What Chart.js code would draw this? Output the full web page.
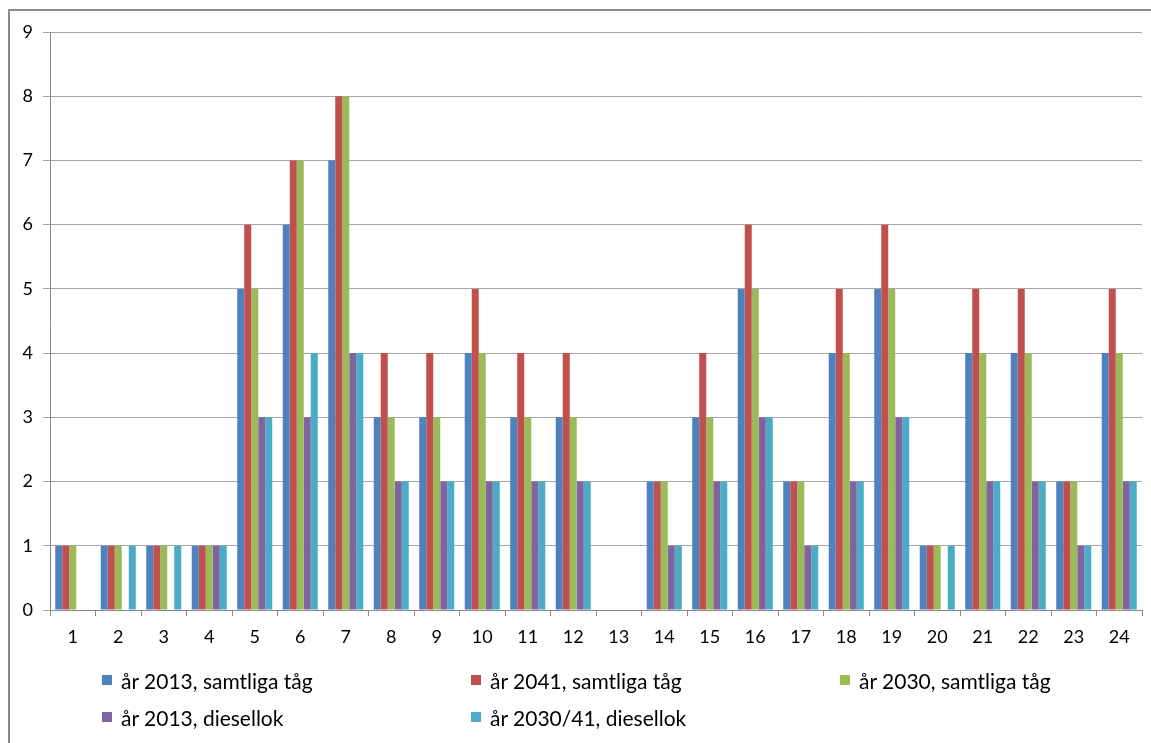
<!DOCTYPE html>
<html>
<head>
<meta charset="utf-8">
<title>Tåg per timme</title>
<script src="https://cdn.jsdelivr.net/npm/chart.js@4/dist/chart.umd.min.js"></script>
<style>
  html, body { margin: 0; padding: 0; background: #fff; }
  #wrap { position: relative; width: 1151px; height: 743px; overflow: hidden; }
  #frame { position: absolute; left: 8px; top: 9px; right: -4px; bottom: -4px;
           border-left: 2px solid #8a8a8a; border-top: 2px solid #8a8a8a; pointer-events: none; }
  canvas { position: absolute; left: 0; top: 0; }
  #legend { position: absolute; left: 102px; top: 667px; width: 1040px;
            display: grid; grid-template-columns: 369px 369px 302px; row-gap: 11px;
            font-family: Lato, "Open Sans", sans-serif; font-size: 21px; color: #000; }
  #legend .item { display: flex; align-items: center; height: 26px; white-space: nowrap; }
  #legend .box { width: 10px; height: 10px; margin-right: 9px; flex: none; }
</style>
</head>
<body>
<div id="wrap">
  <canvas id="c" width="1151" height="743"></canvas>
  <div id="frame"></div>
  <div id="legend"></div>
</div>
<script>
// Hours of the day
const hours = ['1','2','3','4','5','6','7','8','9','10','11','12','13','14','15','16','17','18','19','20','21','22','23','24'];

// Trains per hour
const all2013    = [1,1,1,1,5,6,7,3,3,4,3,3,0,2,3,5,2,4,5,1,4,4,2,4];
const all2041    = [1,1,1,1,6,7,8,4,4,5,4,4,0,2,4,6,2,5,6,1,5,5,2,5];
const all2030    = [1,1,1,1,5,7,8,3,3,4,3,3,0,2,3,5,2,4,5,1,4,4,2,4];
const diesel2013 = [0,0,0,1,3,3,4,2,2,2,2,2,0,1,2,3,1,2,3,0,2,2,1,2];
const diesel2030 = [0,1,1,1,3,4,4,2,2,2,2,2,0,1,2,3,1,2,3,1,2,2,1,2];

const seriesNames = ['år 2013, samtliga tåg', 'år 2041, samtliga tåg', 'år 2030, samtliga tåg',
                     'år 2013, diesellok', 'år 2030/41, diesellok'];
const seriesColors = ['#4F81BD', '#C0504D', '#9BBB59', '#8064A2', '#4BACC6'];
const yTicks = [0,1,2,3,4,5,6,7,8,9];

const seriesData = [all2013, all2041, all2030, diesel2013, diesel2030];
const FONT = 'Lato, "Open Sans", sans-serif';

const chart = new Chart(document.getElementById('c'), {
  type: 'bar',
  data: {
    labels: hours,
    datasets: seriesData.map((d, i) => ({
      label: seriesNames[i],
      data: d,
      backgroundColor: seriesColors[i],
      borderWidth: 0,
      categoryPercentage: 0.77,
      barPercentage: 1.0
    }))
  },
  options: {
    responsive: false,
    animation: false,
    devicePixelRatio: 1,
    layout: { padding: { left: 0, top: 32, right: 9, bottom: 0 } },
    plugins: { legend: { display: false }, tooltip: { enabled: false } },
    scales: {
      x: {
        grid: { offset: true, drawOnChartArea: false, drawTicks: true, tickLength: 6, color: '#8a8a8a', lineWidth: 1 },
        border: { display: true, color: '#8a8a8a', width: 1 },
        ticks: { color: '#000', padding: 10, maxRotation: 0, autoSkip: false, font: { family: FONT, size: 18 } },
        afterFit(scale) { scale.height = 133; }
      },
      y: {
        min: 0, max: 9,
        afterBuildTicks(scale) { scale.ticks = yTicks.map(v => ({ value: v })); },
        grid: { color: '#a6a6a6', lineWidth: 1, tickLength: 7, drawTicks: true },
        border: { display: true, color: '#8a8a8a', width: 1 },
        ticks: { color: '#000', padding: 10, font: { family: FONT, size: 18 } },
        afterFit(scale) { scale.width = 50; }
      }
    }
  }
});

// Legend in three columns, built from the chart's own legend items
const legendEl = document.getElementById('legend');
Chart.defaults.plugins.legend.labels.generateLabels(chart).forEach(item => {
  const el = document.createElement('div');
  el.className = 'item';
  const box = document.createElement('span');
  box.className = 'box';
  box.style.background = item.fillStyle;
  const txt = document.createElement('span');
  txt.textContent = item.text;
  el.appendChild(box);
  el.appendChild(txt);
  legendEl.appendChild(el);
});
</script>
</body>
</html>
